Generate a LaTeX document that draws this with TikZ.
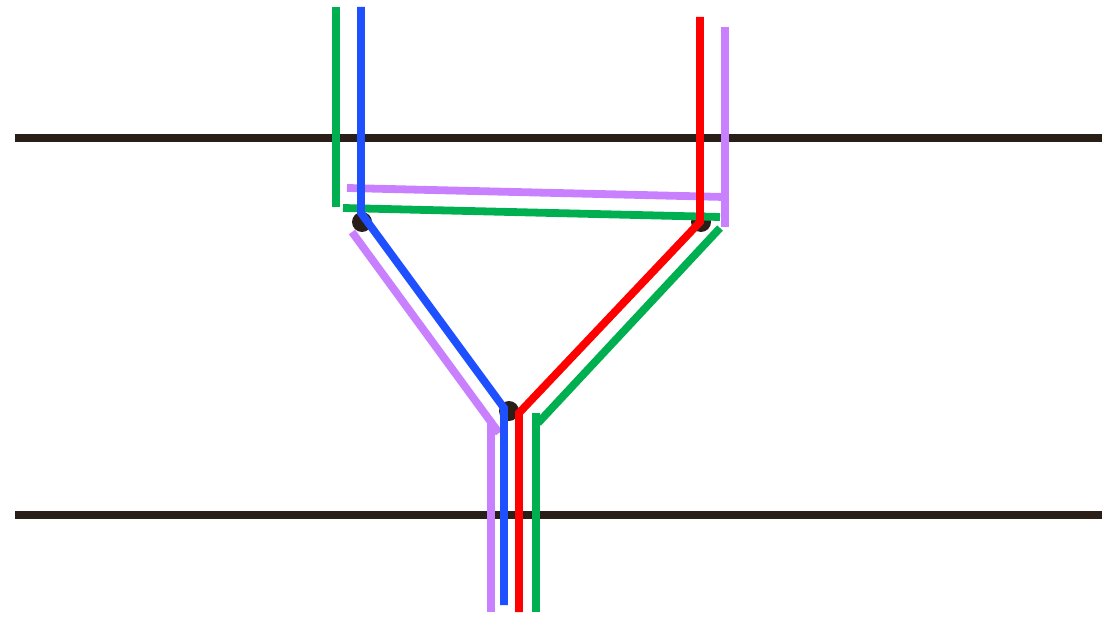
\documentclass[tikz,border=0pt]{standalone}
\begin{document}
\begin{tikzpicture}[x=1pt,y=-1pt,
  wire/.style={line width=7.8pt},
  rail/.style={line width=7.5pt,draw=railc},
  vdot/.style={circle,fill=railc,minimum size=20pt,inner sep=0pt}]
\definecolor{railc}{RGB}{42,31,24}
\definecolor{cgreen}{RGB}{0,176,80}
\definecolor{cblue}{RGB}{30,80,255}
\definecolor{cred}{RGB}{255,0,0}
\definecolor{cpurple}{RGB}{200,128,255}
\useasboundingbox[fill=white] (0,0) rectangle (1102,620);
% rails
\coordinate (r1a) at (15,138); \coordinate (r1b) at (1102,138);
\coordinate (r2a) at (15,515); \coordinate (r2b) at (1102,515);
\draw[rail] (r1a) -- (r1b);
\draw[rail] (r2a) -- (r2b);
% vertices
\node[vdot] (L) at (362,222) {};
\node[vdot] (R) at (701,222) {};
\node[vdot] (B) at (509,411) {};
% green
\draw[wire,cgreen] (336,7) -- (336,207);
\draw[wire,cgreen] (343,208) -- (720,217);
\draw[wire,cgreen] (720,228) -- (538,423);
\draw[wire,cgreen] (536,413) -- (536,612);
% purple
\draw[wire,cpurple] (347,188) -- (725,197);
\draw[wire,cpurple] (725,27) -- (725,227);
\draw[wire,cpurple] (352,232) -- (499,433);
\draw[wire,cpurple] (491,420) -- (491,612);
% blue
\draw[wire,cblue] (361,7) -- (361,213) -- (504,408) -- (504,605);
% red
\draw[wire,cred] (700,17) -- (700,222) -- (519,413) -- (519,612);
\end{tikzpicture}
\end{document}
